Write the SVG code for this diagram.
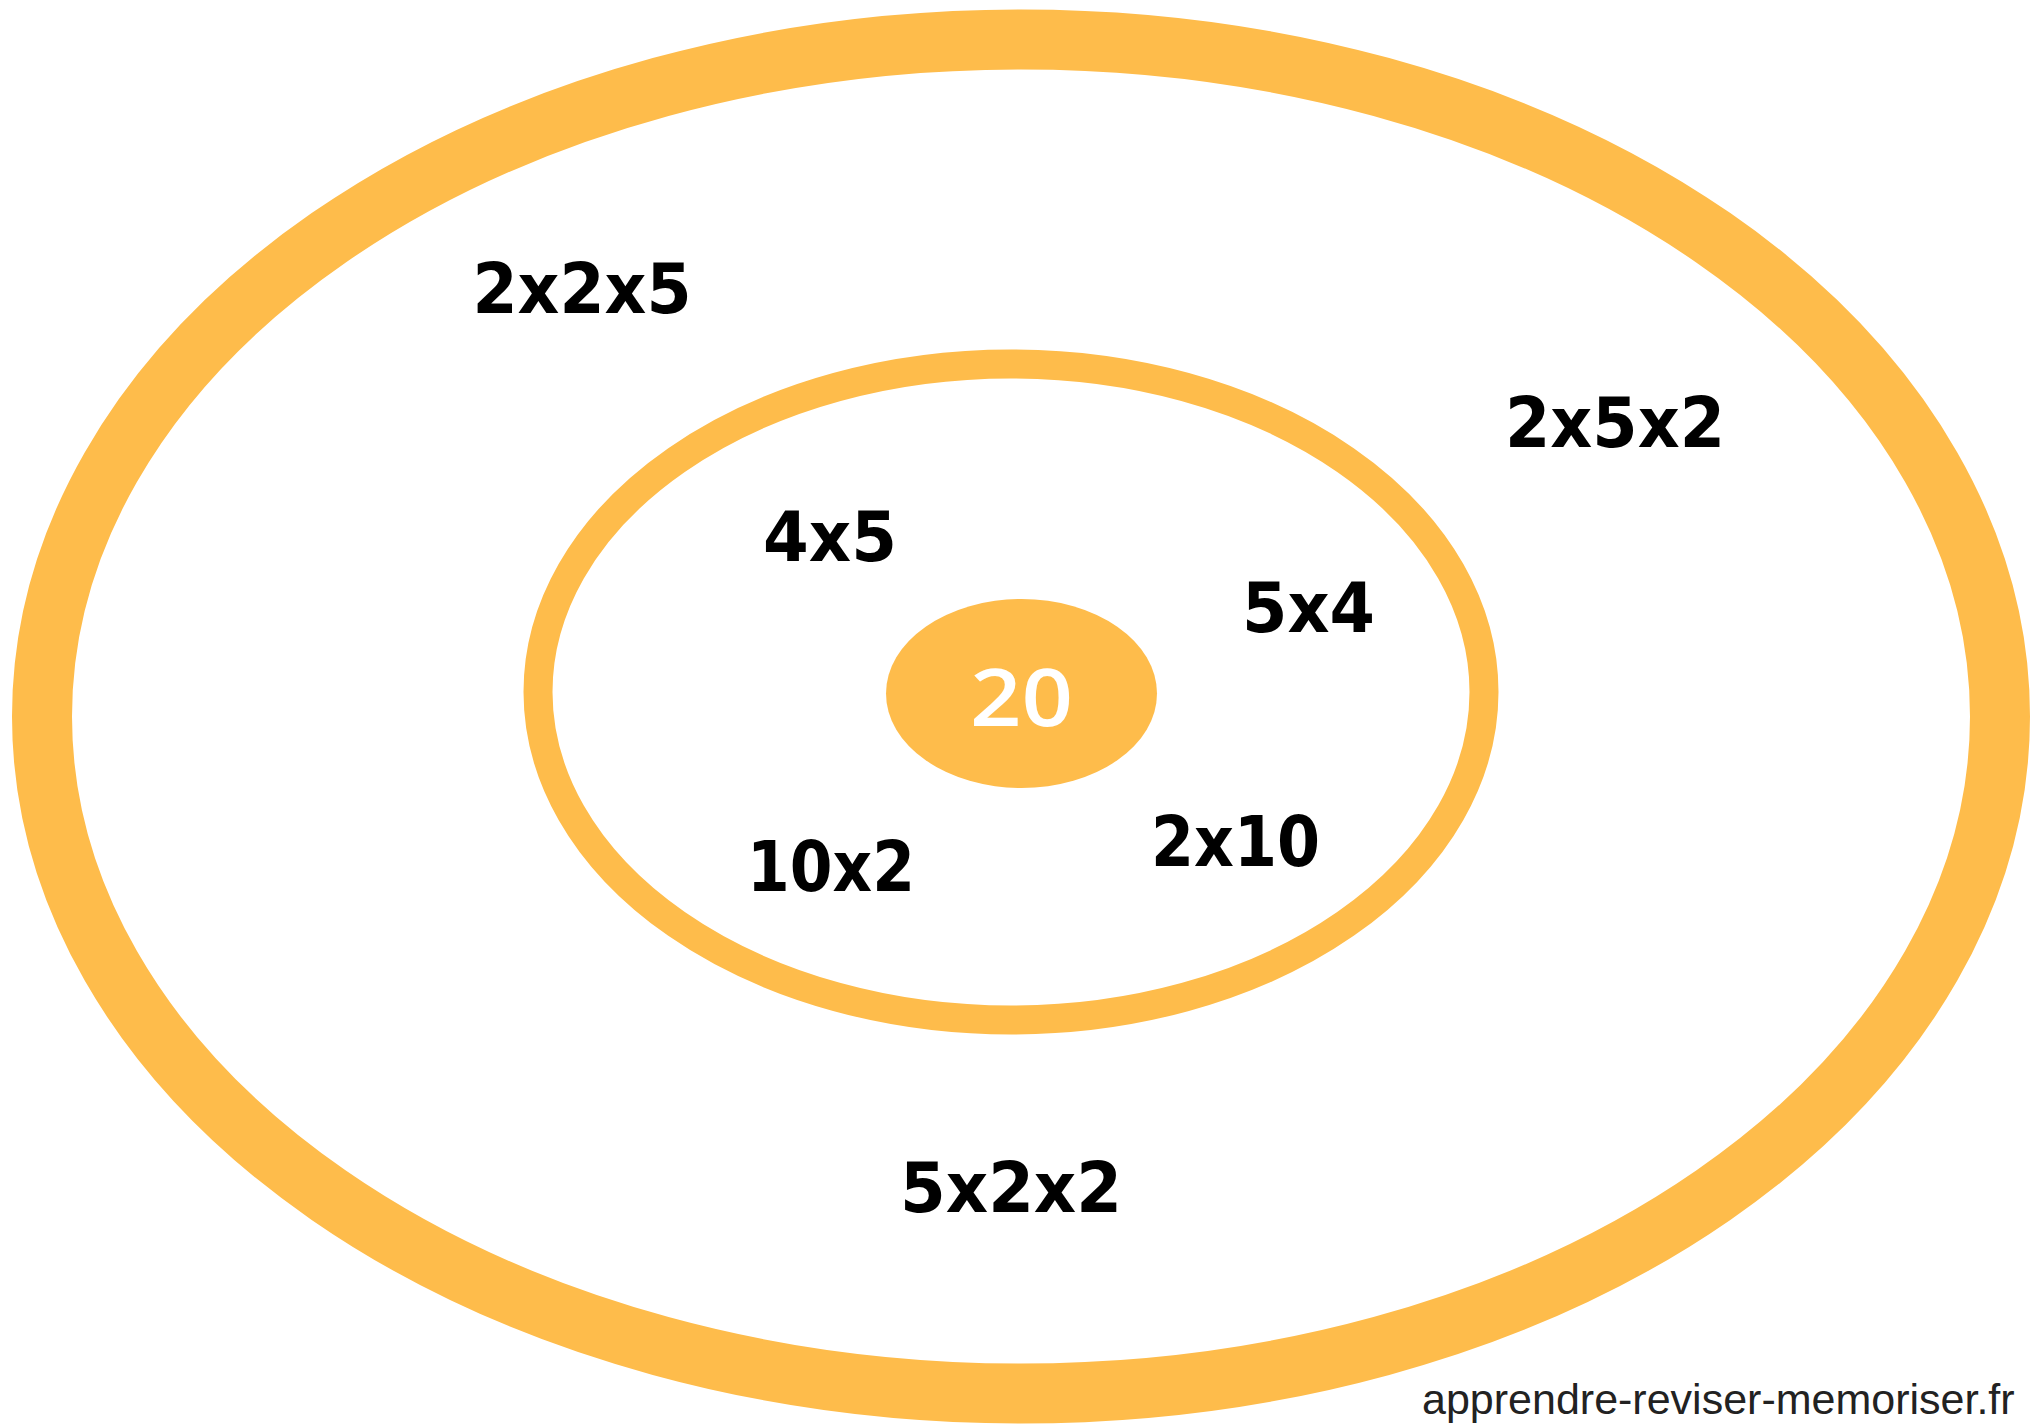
<svg xmlns="http://www.w3.org/2000/svg" width="2031" height="1425" viewBox="0 0 2031 1425">
<style>
.ring{fill:none;stroke:#FEBC4B}
.lbl{font-family:"DejaVu Sans","Liberation Sans",sans-serif;font-weight:bold;font-size:70px;fill:#000;text-anchor:middle}
.center{font-family:"Open Sans","DejaVu Sans",sans-serif;font-weight:600;font-size:80px;fill:#fff;text-anchor:middle}
.foot{font-family:"Liberation Sans",Arial,sans-serif;font-size:43px;fill:#222}
</style>
<rect width="2031" height="1425" fill="#fff"/>
<g id="outer-ring">
<ellipse class="ring" cx="1021" cy="716.5" rx="979" ry="677" stroke-width="60"/>
<text class="lbl" x="582" y="313" textLength="219" lengthAdjust="spacingAndGlyphs">2x2x5</text>
<text class="lbl" x="1615" y="447" textLength="220" lengthAdjust="spacingAndGlyphs">2x5x2</text>
<text class="lbl" x="1011" y="1212" textLength="222" lengthAdjust="spacingAndGlyphs">5x2x2</text>
</g>
<g id="inner-ring">
<ellipse class="ring" cx="1011" cy="692" rx="473" ry="328" stroke-width="29"/>
<text class="lbl" x="830" y="561" textLength="134" lengthAdjust="spacingAndGlyphs">4x5</text>
<text class="lbl" x="1308.5" y="632" textLength="133" lengthAdjust="spacingAndGlyphs">5x4</text>
<text class="lbl" x="831" y="891" textLength="168" lengthAdjust="spacingAndGlyphs">10x2</text>
<text class="lbl" x="1235.5" y="866" textLength="169" lengthAdjust="spacingAndGlyphs">2x10</text>
</g>
<g id="center">
<ellipse cx="1021.5" cy="693.5" rx="135.5" ry="94.5" fill="#FEBC4B"/>
<text class="center" x="1021.5" y="726" textLength="103" lengthAdjust="spacingAndGlyphs">20</text>
</g>
<g id="connectors"/>
<text class="foot" x="1422" y="1414">apprendre-reviser-memoriser.fr</text>
</svg>
